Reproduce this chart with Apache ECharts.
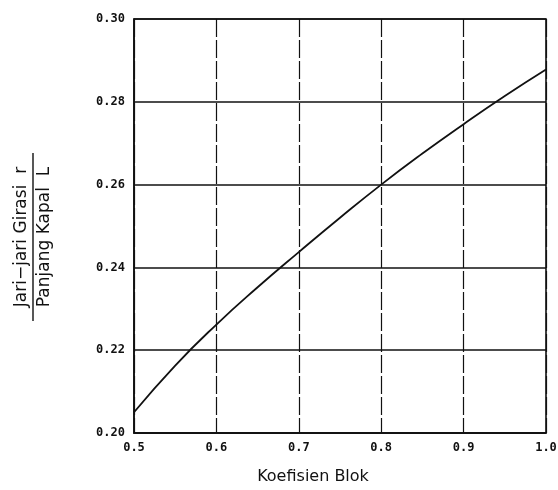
<!DOCTYPE html>
<html>
<head>
<meta charset="UTF-8">
<script src="https://cdn.jsdelivr.net/npm/echarts@6/dist/echarts.min.js"></script>
</head>
<body style="margin:0;background:#fff;">
<div id="main" style="width:558px;height:490px;"></div>
<script>
    var blockCoef = [0.5, 0.55, 0.6, 0.65, 0.7, 0.75, 0.8, 0.85, 0.9, 0.95, 1.0];
    var gyration = [0.205, 0.2163, 0.2262, 0.2352, 0.2437, 0.252, 0.26, 0.2675, 0.2746, 0.2814, 0.2878];
    var xTicks = ['0.5', '0.6', '0.7', '0.8', '0.9', '1.0'];
    var yTicks = ['0.20', '0.22', '0.24', '0.26', '0.28', '0.30'];

    var chart = echarts.init(document.getElementById('main'));
    var tickFont = {
        color: '#111', fontFamily: 'DejaVu Sans Mono', fontSize: 12, fontWeight: 'bold'
    };

    chart.setOption({
        backgroundColor: '#fff',
        animation: false,
        grid: {
            left: 134, right: 12, top: 19, bottom: 57,
            outerBoundsMode: 'none',
            containLabel: false,
            show: true, borderColor: '#111', borderWidth: 1.6
        },
        xAxis: {
            type: 'value',
            min: 0.5, max: 1.0, interval: 0.1,
            name: 'Koefisien Blok',
            nameLocation: 'middle',
            nameGap: 36,
            nameTextStyle: {
                color: '#111', fontFamily: 'DejaVu Sans', fontSize: 16,
                padding: [0, 54, 0, 0]
            },
            axisLine: { lineStyle: { color: '#111', width: 1.6 } },
            axisTick: { show: false },
            axisLabel: Object.assign({
                margin: 9,
                formatter: function (v) {
                    return xTicks[Math.round((v - 0.5) * 10)];
                }
            }, tickFont),
            splitLine: { lineStyle: { color: '#111', width: 1.2, type: [18, 3] } }
        },
        yAxis: {
            type: 'value',
            min: 0.20, max: 0.30, interval: 0.02,
            axisLine: { lineStyle: { color: '#111', width: 1.6 } },
            axisTick: { show: false },
            axisLabel: Object.assign({
                margin: 9,
                formatter: function (v) {
                    return yTicks[Math.round((v - 0.2) * 50)];
                }
            }, tickFont),
            splitLine: { lineStyle: { color: '#111', width: 1.5 } }
        },
        // axis title written as a fraction, rotated to read bottom-to-top
        graphic: [{
            type: 'group',
            x: 33, y: 237,
            rotation: Math.PI / 2,
            children: [{
                type: 'text',
                x: 0, y: -3,
                style: {
                    text: 'Jari\u2212jari Girasi  r',
                    fontFamily: 'DejaVu Sans', fontSize: 17, fill: '#111',
                    align: 'center', verticalAlign: 'bottom'
                }
            }, {
                type: 'line',
                shape: { x1: -84, y1: 0, x2: 84, y2: 0 },
                style: { stroke: '#111', lineWidth: 1.4 }
            }, {
                type: 'text',
                x: 0, y: 3,
                style: {
                    text: 'Panjang Kapal  L',
                    fontFamily: 'DejaVu Sans', fontSize: 17, fill: '#111',
                    align: 'center', verticalAlign: 'top'
                }
            }]
        }],
        series: [{
            type: 'line',
            data: blockCoef.map(function (x, i) { return [x, gyration[i]]; }),
            smooth: true,
            showSymbol: false,
            lineStyle: { color: '#111', width: 1.8 }
        }]
    });
</script>
</body>
</html>
